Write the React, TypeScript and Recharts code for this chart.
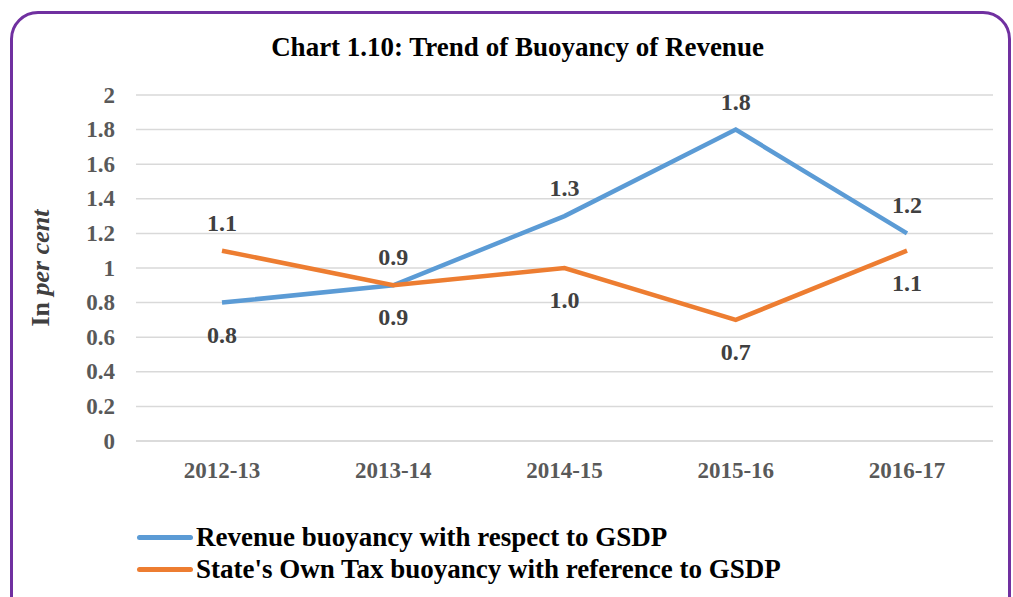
import { LineChart, Line, XAxis, YAxis, CartesianGrid, LabelList } from "recharts";

const years = ["2012-13", "2013-14", "2014-15", "2015-16", "2016-17"];
const revenueBuoyancy = [0.8, 0.9, 1.3, 1.8, 1.2];
const ownTaxBuoyancy = [1.1, 0.9, 1.0, 0.7, 1.1];
const yTicks = [0, 0.2, 0.4, 0.6, 0.8, 1, 1.2, 1.4, 1.6, 1.8, 2];

const seriesNames = [
  "Revenue buoyancy with respect to GSDP",
  "State's Own Tax buoyancy with reference to GSDP",
];
const seriesColors = ["#5B9BD5", "#ED7D31"];

const data = years.map((year, i) => ({
  year,
  revenue: revenueBuoyancy[i],
  ownTax: ownTaxBuoyancy[i],
}));

const serif = "'Liberation Serif', 'Times New Roman', serif";

const XTick = (props: any) => {
  const { x, y, payload } = props;
  return (
    <text x={x} y={y + 21} textAnchor="middle" dominantBaseline="central"
      fontFamily={serif} fontWeight="bold" fontSize={23} fill="#595959">
      {payload.value}
    </text>
  );
};

const YTick = (props: any) => {
  const { x, y, payload } = props;
  return (
    <text x={x - 13} y={y} textAnchor="end" dominantBaseline="central"
      fontFamily={serif} fontWeight="bold" fontSize={23} fill="#595959">
      {String(Number(payload.value.toFixed(1)))}
    </text>
  );
};

// label text above or below the point
const makeLabel = (above: (v: number, i: number) => boolean, fmt: (v: number) => string) =>
  (props: any) => {
    const { x, y, value, index } = props;
    const up = above(value, index);
    return (
      <text x={x} y={up ? y - 28 : y + 32} textAnchor="middle" dominantBaseline="central"
        fontFamily={serif} fontWeight="bold" fontSize={24} fill="#404040">
        {fmt(value)}
      </text>
    );
  };

export default function App() {
  return (
    <div style={{ position: "absolute", left: 0, top: 0, width: 1013, height: 597, background: "#fff", overflow: "hidden" }}>
      <div style={{
        position: "absolute", left: 10, top: 11, width: 1001, height: 620,
        border: "3px solid #7030A0", borderRadius: 28, boxSizing: "border-box",
      }} />
      <div style={{
        position: "absolute", left: 0, width: 1035, top: 32, textAlign: "center",
        fontFamily: serif, fontWeight: "bold", fontSize: 27, color: "#000",
      }}>
        Chart 1.10: Trend of Buoyancy of Revenue
      </div>
      <div style={{ position: "absolute", left: 0, top: 0 }}>
        <LineChart width={1013} height={597} data={data}
          margin={{ top: 95, right: 20, bottom: 126, left: 76 }}>
          <CartesianGrid vertical={false} stroke="#D9D9D9" strokeWidth={1.5} />
          <XAxis dataKey="year" height={30} padding={{ left: 86, right: 86 }}
            axisLine={{ stroke: "#D9D9D9", strokeWidth: 1.5 }} tickLine={false} tick={<XTick />} />
          <YAxis width={60} domain={[0, 2]} ticks={yTicks} interval={0} axisLine={false} tickLine={false}
            tick={<YTick />}
            label={() => (
              <text x={40} y={268} textAnchor="middle" dominantBaseline="central"
                transform="rotate(-90 40 268)" fontFamily={serif} fontWeight="bold" fontSize={26} fill="#404040">
                In <tspan fontStyle="italic">per cent</tspan>
              </text>
            )} />
          <Line dataKey="revenue" name={seriesNames[0]} stroke={seriesColors[0]} strokeWidth={4.5}
            dot={false} isAnimationActive={false}>
            <LabelList dataKey="revenue" content={makeLabel((v) => v >= 1, (v) => String(v))} />
          </Line>
          <Line dataKey="ownTax" name={seriesNames[1]} stroke={seriesColors[1]} strokeWidth={4.5}
            dot={false} isAnimationActive={false}>
            <LabelList dataKey="ownTax" content={makeLabel((_v, i) => i < 2, (v) => v.toFixed(1))} />
          </Line>
        </LineChart>
      </div>
      <div style={{
        position: "absolute", left: 137, top: 521,
        fontFamily: serif, fontWeight: "bold", fontSize: 27, color: "#000",
      }}>
        {seriesNames.map((name, i) => (
          <div key={name} style={{ display: "flex", alignItems: "center", height: 32 }}>
            <span style={{ display: "inline-block", width: 56, height: 5, borderRadius: 3, background: seriesColors[i], marginRight: 3 }} />
            <span style={{ whiteSpace: "nowrap" }}>{name}</span>
          </div>
        ))}
      </div>
    </div>
  );
}
